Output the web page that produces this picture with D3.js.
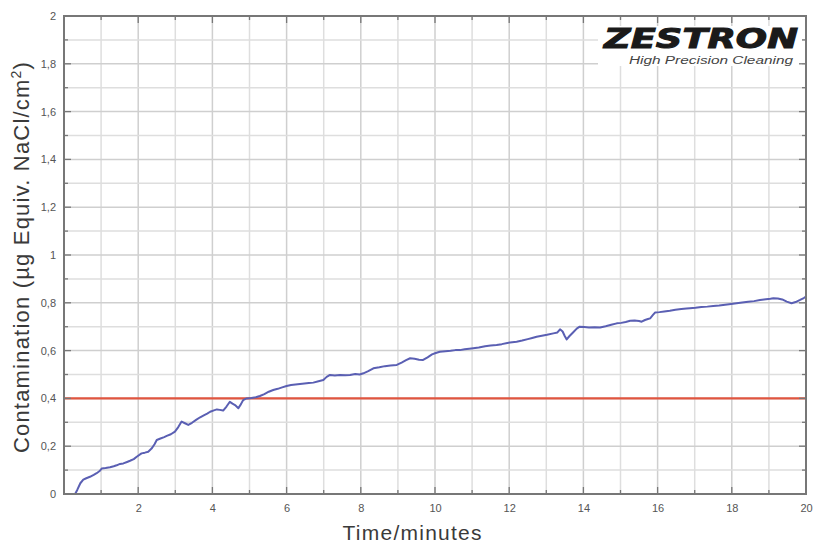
<!DOCTYPE html>
<html><head><meta charset="utf-8">
<script src="https://cdn.jsdelivr.net/npm/d3@7/dist/d3.min.js"></script>
<style>html,body{margin:0;padding:0;background:#fff;}</style>
</head><body>
<svg id="c" width="813" height="544"></svg>
<script>
const times = [0.30,0.36,0.44,0.52,0.60,0.70,0.80,0.88,0.96,1.02,1.12,1.24,1.34,1.42,1.51,1.60,1.70,1.78,1.88,1.96,2.09,2.18,2.27,2.36,2.44,2.50,2.60,2.70,2.77,2.88,2.99,3.08,3.17,3.26,3.35,3.45,3.56,3.67,3.78,3.86,3.94,4.04,4.12,4.20,4.29,4.38,4.47,4.54,4.61,4.70,4.77,4.83,4.92,5.05,5.17,5.28,5.40,5.52,5.64,5.76,5.88,6.0,6.12,6.24,6.36,6.48,6.60,6.72,6.86,6.99,7.08,7.17,7.30,7.44,7.58,7.71,7.85,7.97,8.07,8.20,8.34,8.50,8.65,8.80,8.97,9.10,9.22,9.33,9.45,9.57,9.68,9.80,9.92,10.02,10.13,10.28,10.42,10.55,10.67,10.80,10.92,11.03,11.18,11.35,11.50,11.66,11.80,11.95,12.08,12.20,12.35,12.50,12.62,12.74,12.88,13.02,13.19,13.30,13.37,13.44,13.50,13.55,13.62,13.72,13.82,13.90,14.02,14.15,14.30,14.45,14.60,14.75,14.90,15.02,15.14,15.26,15.38,15.50,15.57,15.66,15.74,15.80,15.87,15.93,16.05,16.18,16.33,16.48,16.64,16.78,16.87,17.02,17.18,17.34,17.50,17.66,17.82,17.98,18.13,18.28,18.44,18.60,18.76,18.92,19.04,19.12,19.24,19.36,19.48,19.61,19.72,19.84,19.94,20.0];
const contamination = [0,0.018,0.045,0.06,0.066,0.072,0.08,0.087,0.096,0.107,0.109,0.112,0.116,0.12,0.126,0.128,0.134,0.139,0.146,0.156,0.170,0.173,0.177,0.19,0.208,0.226,0.232,0.238,0.243,0.25,0.261,0.280,0.303,0.296,0.289,0.298,0.31,0.321,0.33,0.336,0.344,0.35,0.354,0.352,0.349,0.366,0.386,0.378,0.372,0.359,0.376,0.393,0.40,0.402,0.405,0.41,0.418,0.428,0.435,0.440,0.446,0.452,0.456,0.458,0.46,0.462,0.464,0.466,0.472,0.477,0.49,0.498,0.496,0.498,0.497,0.498,0.502,0.50,0.505,0.514,0.526,0.53,0.535,0.538,0.54,0.55,0.56,0.568,0.566,0.562,0.561,0.572,0.584,0.59,0.595,0.597,0.599,0.602,0.602,0.606,0.608,0.61,0.613,0.618,0.621,0.623,0.627,0.632,0.635,0.637,0.642,0.648,0.653,0.658,0.662,0.666,0.672,0.676,0.689,0.68,0.66,0.647,0.66,0.676,0.692,0.70,0.699,0.697,0.698,0.697,0.702,0.708,0.714,0.716,0.72,0.725,0.726,0.724,0.721,0.728,0.732,0.735,0.748,0.759,0.761,0.764,0.767,0.771,0.774,0.776,0.777,0.779,0.782,0.784,0.787,0.789,0.792,0.795,0.798,0.801,0.804,0.807,0.812,0.815,0.817,0.819,0.818,0.814,0.805,0.798,0.803,0.812,0.82,0.826];
const limitValue = 0.4;
const xTicks = [2,4,6,8,10,12,14,16,18,20];
const yTicks = [0,0.2,0.4,0.6,0.8,1,1.2,1.4,1.6,1.8,2];
const xTitle = "Time/minutes";
const logoText = "ZESTRON";
const logoSub = "High Precision Cleaning";

const svg = d3.select("#c");
const L=64, R=806, T=16, B=494;
const x = d3.scaleLinear().domain([0,20]).range([L,R]);
const y = d3.scaleLinear().domain([0,2]).range([B,T]);
const fmt = v => String(v).replace(".", ",");

// grid
const gx = d3.range(1,20,1), gy = d3.range(1,20,1).map(i=>i/10);
svg.append("g").selectAll("line").data(gx).join("line")
  .attr("x1",d=>x(d)).attr("x2",d=>x(d)).attr("y1",T).attr("y2",B)
  .attr("stroke",d=>d%2===0?"#cfcfcf":"#dedede").attr("stroke-width",1.5);
svg.append("g").selectAll("line").data(gy).join("line")
  .attr("y1",d=>y(d)).attr("y2",d=>y(d)).attr("x1",L).attr("x2",R)
  .attr("stroke",(d,i)=>i%2===1?"#cfcfcf":"#dedede").attr("stroke-width",1.5);

// logo background
svg.append("rect").attr("x",598).attr("y",26).attr("width",204).attr("height",40).attr("fill","#fff");
svg.append("text").attr("x",798).attr("y",48).attr("text-anchor","end")
  .attr("font-family","DejaVu Sans").attr("font-weight","bold").attr("font-style","italic")
  .attr("font-size",26).attr("fill","#1a1a1a").attr("stroke","#1a1a1a").attr("stroke-width",1)
  .attr("textLength",194).attr("lengthAdjust","spacingAndGlyphs")
  .text(logoText);
svg.append("text").attr("x",793).attr("y",64).attr("text-anchor","end")
  .attr("font-family","Liberation Sans").attr("font-style","italic")
  .attr("font-size",10).attr("fill","#444").attr("textLength",164).attr("lengthAdjust","spacingAndGlyphs")
  .text(logoSub);

// limit line
svg.append("line").attr("x1",L).attr("x2",R).attr("y1",y(limitValue)).attr("y2",y(limitValue))
  .attr("stroke","#e0553f").attr("stroke-width",2.4);

// curve
const line = d3.line().x((d,i)=>x(times[i])).y(d=>y(d));
svg.append("path").datum(contamination).attr("d",line)
  .attr("fill","none").attr("stroke","#5a5fb3").attr("stroke-width",2).attr("stroke-linejoin","round");

// ticks inward on all sides
const xMajor = d3.range(0,21,2), xMinor = d3.range(1,20,2);
const yMajor = yTicks, yMinor = d3.range(1,20,2).map(i=>i/10);
function ticks(g){
  g.attr("stroke","#777").attr("stroke-width",1.3);
  xMajor.forEach(v=>{g.append("line").attr("x1",x(v)).attr("x2",x(v)).attr("y1",B).attr("y2",B-7);
                     g.append("line").attr("x1",x(v)).attr("x2",x(v)).attr("y1",T).attr("y2",T+7);});
  xMinor.forEach(v=>{g.append("line").attr("x1",x(v)).attr("x2",x(v)).attr("y1",B).attr("y2",B-4);
                     g.append("line").attr("x1",x(v)).attr("x2",x(v)).attr("y1",T).attr("y2",T+4);});
  yMajor.forEach(v=>{g.append("line").attr("y1",y(v)).attr("y2",y(v)).attr("x1",L).attr("x2",L+7);
                     g.append("line").attr("y1",y(v)).attr("y2",y(v)).attr("x1",R).attr("x2",R-7);});
  yMinor.forEach(v=>{g.append("line").attr("y1",y(v)).attr("y2",y(v)).attr("x1",L).attr("x2",L+4);
                     g.append("line").attr("y1",y(v)).attr("y2",y(v)).attr("x1",R).attr("x2",R-4);});
}
svg.append("g").call(ticks);
svg.append("rect").attr("x",L).attr("y",T).attr("width",R-L).attr("height",B-T)
  .attr("fill","none").attr("stroke","#777").attr("stroke-width",2);

// tick labels via d3 axes
const xAxis = svg.append("g").attr("transform",`translate(0,${B})`)
  .call(d3.axisBottom(x).tickValues(xTicks).tickFormat(d=>fmt(d)).tickSize(0).tickPadding(10));
const yAxis = svg.append("g").attr("transform",`translate(${L},0)`)
  .call(d3.axisLeft(y).tickValues(yTicks).tickFormat(d=>fmt(d)).tickSize(0).tickPadding(8));
[xAxis,yAxis].forEach(a=>{a.select(".domain").remove();
  a.selectAll("text").attr("font-family","Liberation Sans").attr("font-size",11).attr("fill","#555");});

// titles
svg.append("text").attr("x",412).attr("y",540).attr("text-anchor","middle")
  .attr("font-family","Liberation Sans").attr("font-size",21).attr("fill","#3a3a3a")
  .attr("textLength",139).attr("lengthAdjust","spacing").text(xTitle);
const yt = svg.append("text").attr("transform","translate(29,257) rotate(-90)").attr("text-anchor","middle")
  .attr("font-family","Liberation Sans").attr("font-size",22).attr("letter-spacing",1.2).attr("fill","#3a3a3a");
yt.append("tspan").text("Contamination (µg Equiv. NaCl/cm");
yt.append("tspan").attr("dy",-8).attr("font-size",14).text("2");
yt.append("tspan").attr("dy",8).text(")");
</script>
</body></html>
